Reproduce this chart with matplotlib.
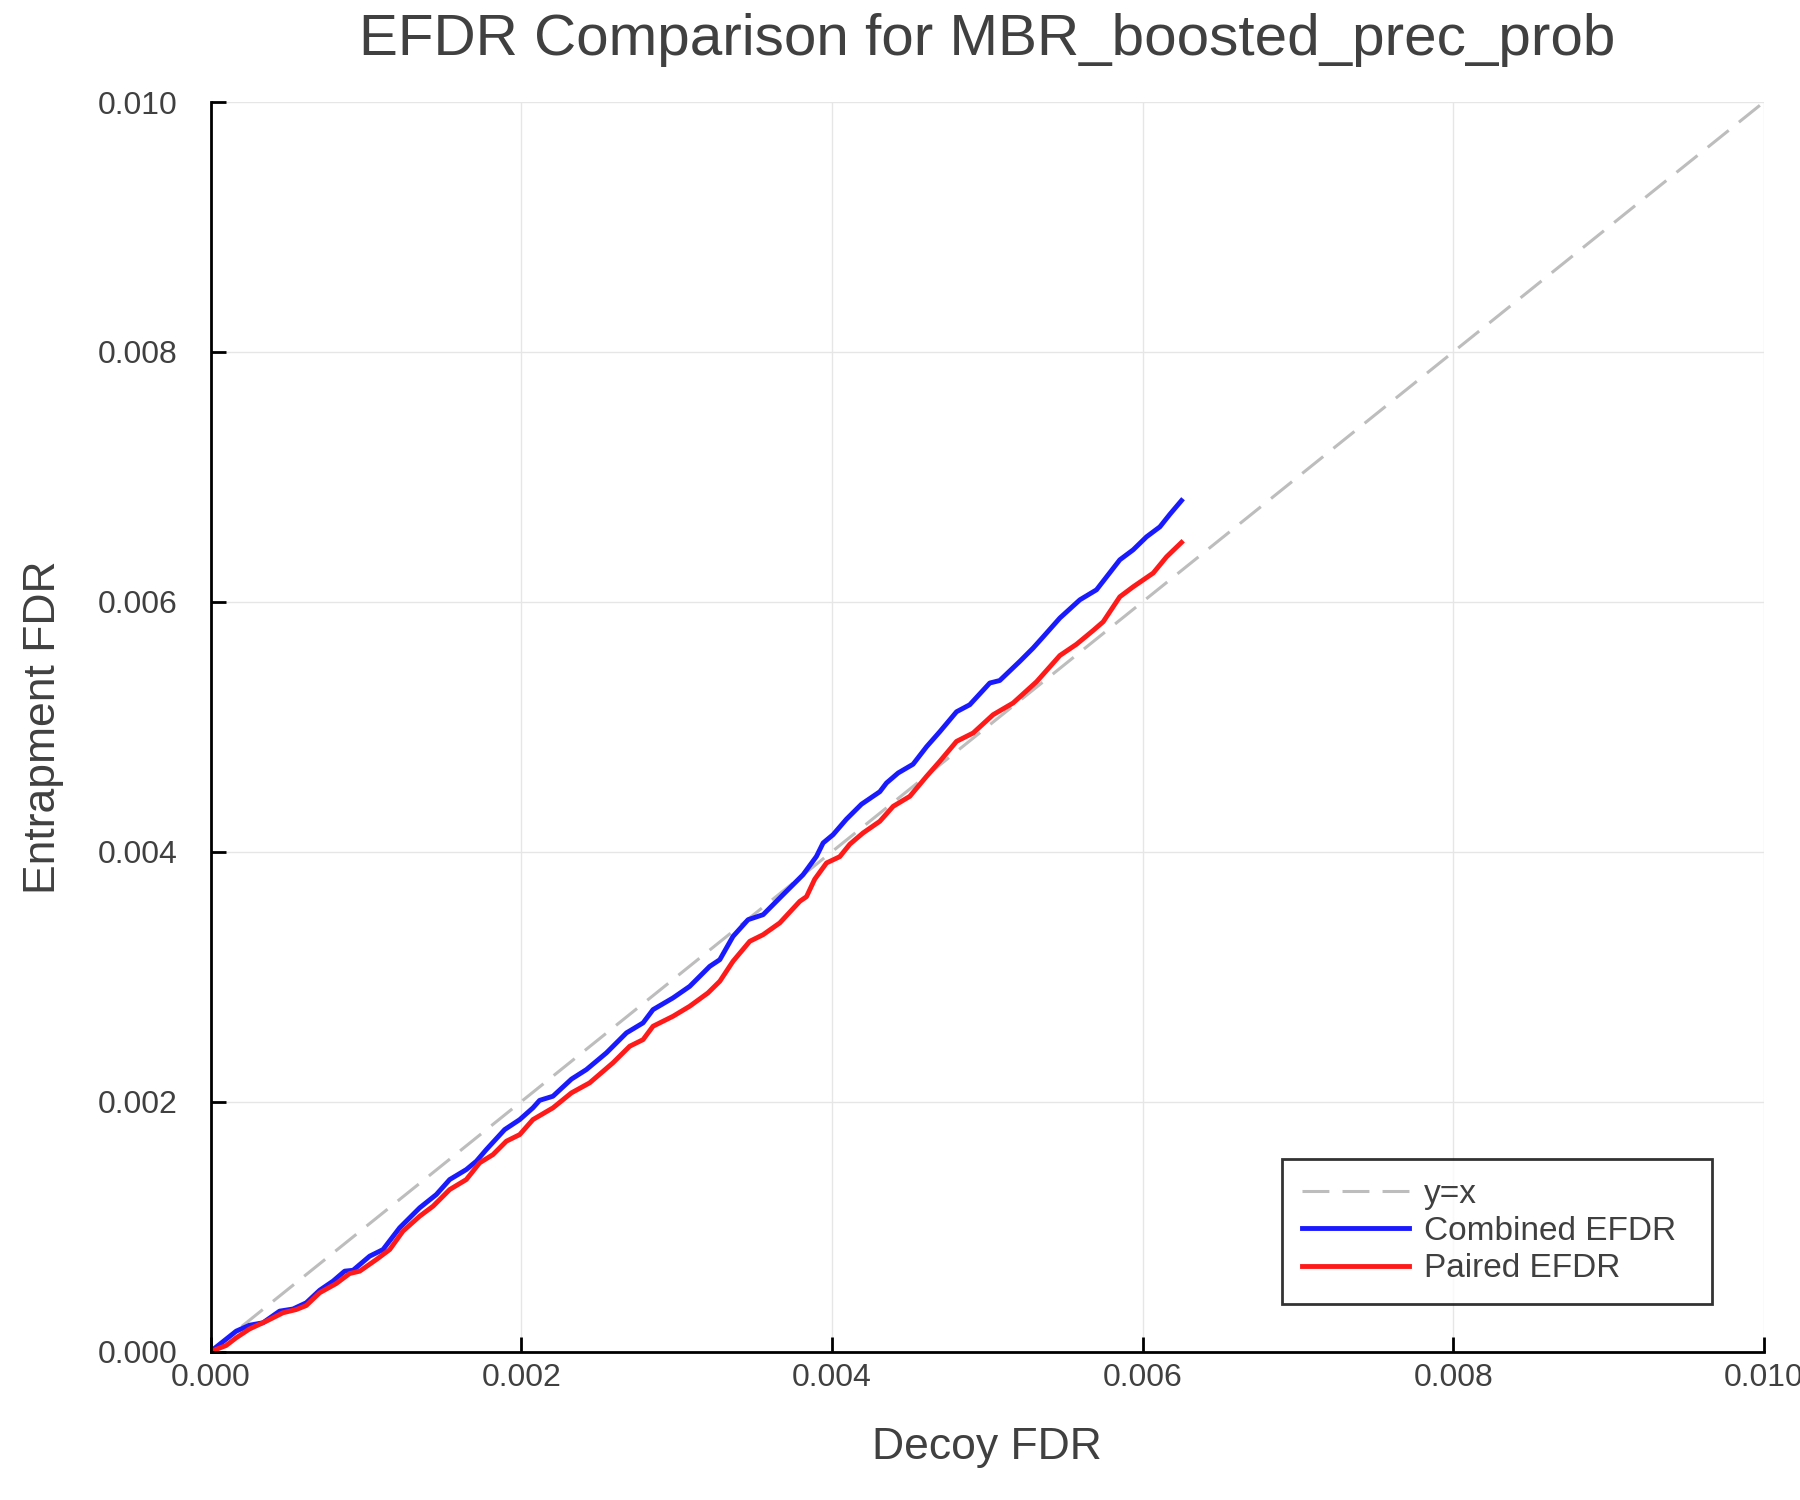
import matplotlib
matplotlib.use("Agg")
import matplotlib.pyplot as plt

# Data
combined_x = [0.0, 0.000165, 0.00025, 0.000337, 0.000444, 0.00053, 0.000616, 0.000702, 0.000788,
              0.000863, 0.000917, 0.001024, 0.00111, 0.001217, 0.001346, 0.001453, 0.001539,
              0.001646, 0.001711, 0.001775, 0.001893, 0.00199, 0.002075, 0.002118, 0.002204,
              0.002323, 0.002419, 0.002548, 0.002677, 0.002784, 0.002848, 0.002977, 0.003084,
              0.003213, 0.003278, 0.003363, 0.00346, 0.003557, 0.003685, 0.003814, 0.0039,
              0.003943, 0.004007, 0.004093, 0.00419, 0.004308, 0.004351, 0.004426, 0.004522,
              0.004609, 0.004694, 0.004802, 0.004887, 0.005016, 0.00508, 0.005209, 0.005295,
              0.00536, 0.005467, 0.005596, 0.005703, 0.005768, 0.005853, 0.005939, 0.006025,
              0.006111, 0.006175, 0.00625]
combined_y = [0.0, 0.000163, 0.00021, 0.00023, 0.000323, 0.00034, 0.00039, 0.00049, 0.000563,
              0.000643, 0.00065, 0.000763, 0.000816, 0.00099, 0.00115, 0.001256, 0.001376,
              0.001456, 0.001523, 0.001616, 0.001776, 0.001856, 0.00195, 0.00201, 0.002043,
              0.00218, 0.002256, 0.00239, 0.00255, 0.00263, 0.002736, 0.00283, 0.002922,
              0.003082, 0.003136, 0.003322, 0.003456, 0.003496, 0.003656, 0.003816, 0.003962,
              0.00407, 0.004136, 0.00426, 0.00438, 0.00448, 0.00455, 0.00463, 0.0047,
              0.00484, 0.00496, 0.00512, 0.005176, 0.00535, 0.00537, 0.005523, 0.00563,
              0.00572, 0.00587, 0.006016, 0.006096, 0.0062, 0.006336, 0.006416, 0.00652,
              0.0066, 0.0067, 0.00681]
paired_x = [0.0, 0.0001, 0.000165, 0.00025, 0.000359, 0.000466, 0.000552, 0.000616, 0.000702,
            0.000809, 0.000895, 0.00096, 0.001067, 0.001153, 0.001238, 0.001346, 0.001432,
            0.001539, 0.001646, 0.001732, 0.001818, 0.001904, 0.00199, 0.002075, 0.002204,
            0.002323, 0.00244, 0.00259, 0.002698, 0.002784, 0.002848, 0.002977, 0.003084,
            0.003202, 0.003278, 0.003363, 0.003471, 0.003557, 0.003664, 0.003793, 0.003836,
            0.003889, 0.003965, 0.00405, 0.004115, 0.0042, 0.004308, 0.004394, 0.004501,
            0.004609, 0.004694, 0.004802, 0.004909, 0.005037, 0.005166, 0.005317, 0.005467,
            0.005574, 0.005681, 0.005746, 0.005853, 0.005939, 0.006068, 0.006154, 0.00625]
paired_y = [0.0, 0.000048, 0.00011, 0.00018, 0.000243, 0.00031, 0.000336, 0.000368, 0.00047,
            0.000544, 0.000624, 0.000643, 0.000736, 0.000816, 0.000963, 0.001083, 0.001163,
            0.001296, 0.001376, 0.00151, 0.001576, 0.001683, 0.001736, 0.001856, 0.00195,
            0.00207, 0.00215, 0.00231, 0.002443, 0.002496, 0.002603, 0.002683, 0.002763,
            0.00287, 0.002963, 0.003123, 0.003283, 0.003336, 0.00343, 0.003603, 0.00364,
            0.00378, 0.00391, 0.00396, 0.00406, 0.00415, 0.004243, 0.004363, 0.004443,
            0.004603, 0.004723, 0.004883, 0.00495, 0.005096, 0.00519, 0.00536, 0.00557,
            0.00566, 0.00577, 0.00584, 0.00604, 0.00612, 0.00623, 0.00636, 0.006475]
diag = [0.0, 0.01]
ticks = [0.0, 0.002, 0.004, 0.006, 0.008, 0.010]
tick_labels = ["0.000", "0.002", "0.004", "0.006", "0.008", "0.010"]

plt.rcParams['font.family'] = ['Liberation Sans', 'DejaVu Sans']
txt = '#404040'

fig = plt.figure(figsize=(18, 15), dpi=100)
ax = fig.add_axes([0.117, 0.099, 0.863, 0.833])

ax.plot(diag, diag, color='#bdbdbd', lw=2.2, ls=(0, (8.8, 4.3)), label='y=x')
ax.plot(combined_x, combined_y, color='#1a1aff', lw=3.5, label='Combined EFDR')
ax.plot(paired_x, paired_y, color='#ff1a1a', lw=3.5, label='Paired EFDR')

ax.set_xlim(0, 0.01)
ax.set_ylim(0, 0.01)
ax.set_xticks(ticks)
ax.set_xticklabels(tick_labels)
ax.set_yticks(ticks)
ax.set_yticklabels(tick_labels)
ax.grid(True, color='#e6e6e6', lw=1.0)
ax.set_axisbelow(True)
for s in ['top', 'right']:
    ax.spines[s].set_visible(False)
for s in ['left', 'bottom']:
    ax.spines[s].set_linewidth(2.0)
    ax.spines[s].set_color('black')
ax.tick_params(direction='in', length=11, width=2, colors='black', labelcolor=txt,
               labelsize=23)
ax.tick_params(axis='x', pad=8)
ax.tick_params(axis='y', pad=24)

ax.set_title('EFDR Comparison for MBR_boosted_prec_prob', fontsize=42, color=txt, pad=34)
ax.set_xlabel('Decoy FDR', fontsize=32, color=txt, labelpad=25)
ax.set_ylabel('Entrapment FDR', fontsize=32, color=txt, labelpad=24)

leg = ax.legend(loc='upper left', bbox_to_anchor=(0.690, 0.034, 0.2764, 0.1204), mode='expand',
                borderaxespad=0, fontsize=24, frameon=True, fancybox=False, edgecolor='black',
                handlelength=3.2, handletextpad=0.45, labelspacing=0.19, borderpad=0.6)
leg.get_frame().set_linewidth(2.0)
for t in leg.get_texts():
    t.set_color(txt)

fig.savefig('out.png', dpi=100, facecolor='white')
